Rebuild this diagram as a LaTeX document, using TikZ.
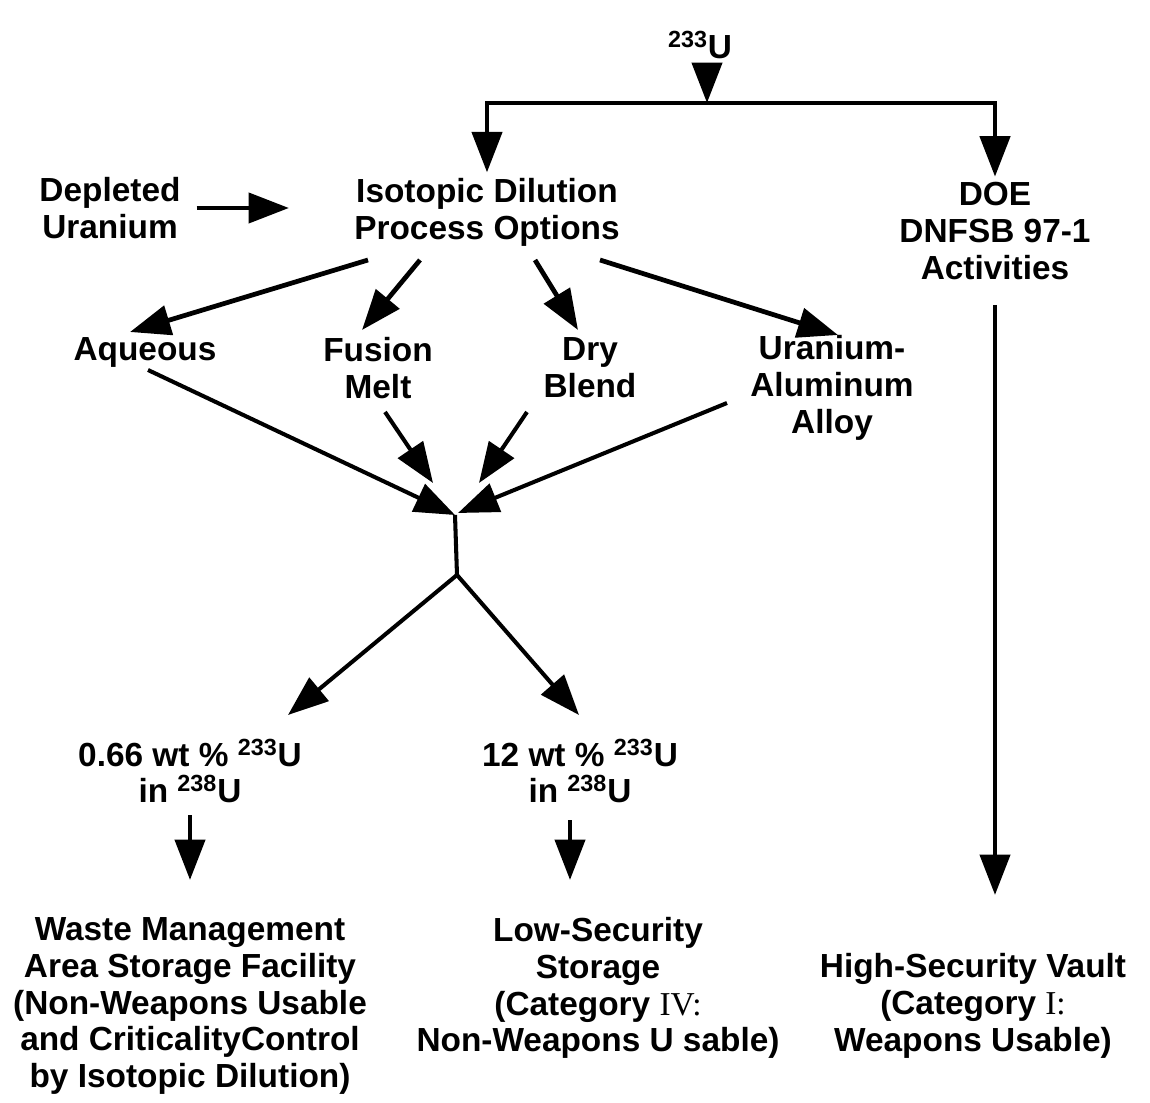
\documentclass[tikz,border=0pt]{standalone}
\usepackage{fontspec}
\setmainfont{Liberation Sans}
\newfontfamily\romanfont{Liberation Serif}
\usetikzlibrary{arrows.meta,calc}
\tikzset{
  lbl/.style={font=\bfseries\fontsize{19}{21}\selectfont, align=center, inner sep=3pt},
  arr/.style={-{Triangle[length=23pt,width=17pt]}, line width=2.7pt},
  thinarr/.style={arr, line width=2.3pt}
}
\begin{document}
\begin{tikzpicture}[x=0.2mm,y=-0.2mm]
    \useasboundingbox (0,0) rectangle (1150,1103);
    % top row
    \node[lbl] (u233) at (700,45) {\textsuperscript{233}U};
    \node[lbl] (dep) at (110,208) {Depleted\\Uranium};
    \node[lbl] (iso) at (487,212) {Isotopic Dilution\\Process Options};
    \node[lbl] (doe) at (995,231) {DOE\\DNFSB 97-1\\Activities};
    % process options
    \node[lbl] (aq) at (145,352) {Aqueous};
    \node[lbl] (fus) at (378,368) {Fusion\\Melt};
    \node[lbl] (dry) at (590,368) {Dry\\Blend};
    \node[lbl] (ual) at (832,388) {Uranium-\\Aluminum\\Alloy};
    % products
    \node[lbl] (low1) at (190,771) {0.66 wt \% \textsuperscript{233}U\\in \textsuperscript{238}U};
    \node[lbl] (low2) at (580,771) {12 wt \% \textsuperscript{233}U\\in \textsuperscript{238}U};
    % storage
    \node[lbl] (waste) at (190,1006) {Waste Management\\Area Storage Facility\\(Non-Weapons Usable\\and CriticalityControl\\by Isotopic Dilution)};
    \node[lbl] (lss) at (598,988) {Low-Security\\Storage\\(Category {\romanfont\mdseries IV:}\\Non-Weapons U sable)};
    \node[lbl] (hsv) at (973,1006) {High-Security Vault\\(Category {\romanfont\mdseries I:}\\Weapons Usable)};

    \coordinate (bus) at (707,103);
    \coordinate (j1) at (455,515);
    \coordinate (j2) at (457,575);

    \draw[arr] (u233.south -| bus) -- (bus);
    \draw[arr] (bus) -| (iso.north);
    \draw[arr] (bus) -| (doe.north);
    \draw[arr, shorten <=6pt, shorten >=34pt] (dep.east) -- (dep.east -| iso.west);
    \foreach \sx/\n/\ex/\ey in {-119/aq/-15/-20, -67/fus/-16/-38, 48/dry/-12/-38, 113/ual/6/-53} {
        \draw[arr] ($(iso)+(\sx,48)$) -- ($(\n)+(\ex,\ey)$);
    }
    % merging
    \draw[thinarr] ($(aq)+(3,18)$) -- (j1);
    \draw[thinarr] ($(fus)+(7,44)$) -- ($(j1)+(-22,-32)$);
    \draw[thinarr] ($(dry)+(-63,44)$) -- ($(j1)+(24,-32)$);
    \draw[thinarr] ($(ual)+(-105,15)$) -- ($(j1)+(3,-2)$);
    \draw[line width=2.3pt] (j1) -- (j2);
    \draw[thinarr] (j2) -- ($(low1)+(98,-56)$);
    \draw[thinarr] (j2) -- ($(low2)+(-1,-56)$);
    % down to storage
    \draw[arr] ($(low1)+(0,44)$) -- ($(waste)+(0,-126)$);
    \draw[arr] ($(low2)+(-10,49)$) -- ($(lss)+(-28,-108)$);
    \draw[arr] ($(doe)+(0,74)$) -- ($(hsv)+(22,-111)$);
\end{tikzpicture}
\end{document}
